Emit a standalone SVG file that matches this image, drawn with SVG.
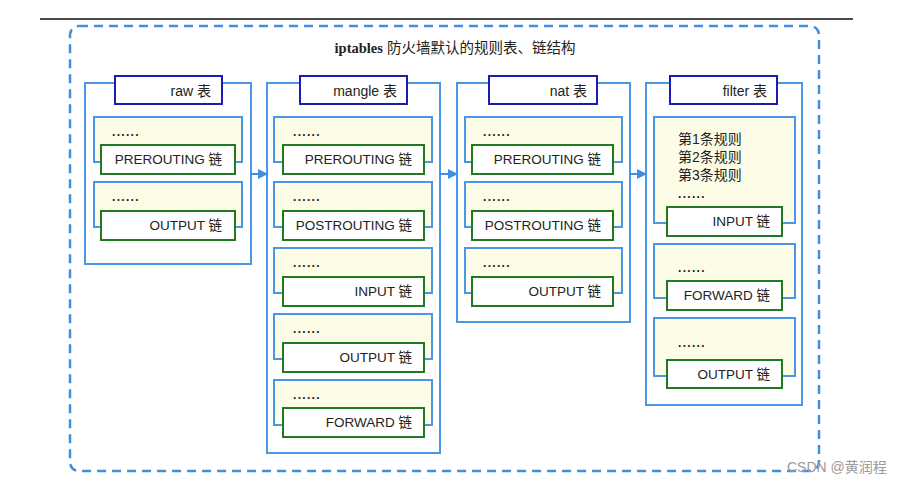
<svg xmlns="http://www.w3.org/2000/svg" width="903" height="485" viewBox="0 0 903 485">
<defs>
<style>
.frame{fill:none;stroke:#3d8fe0;stroke-width:2.5;stroke-dasharray:9 6}
.tbl{fill:#fff;stroke:#4a97e8;stroke-width:2}
.lbl{fill:#fff;stroke:#1c1cb4;stroke-width:2}
.ch{fill:#fdfde7;stroke:#4a97e8;stroke-width:2}
.gr{fill:#fff;stroke:#217a21;stroke-width:2}
text{font-family:"Liberation Sans","Noto Sans CJK SC",sans-serif;font-size:13.5px;fill:#222}
.t{font-size:14px}
.e{text-anchor:end}
.dots{letter-spacing:1.3px;font-weight:bold;font-size:12px}
.conn{stroke:#3d8fe0;stroke-width:2;fill:none;marker-end:url(#ah)}
</style>
<marker id="ah" viewBox="0 0 10 10" refX="9" refY="5" markerWidth="5" markerHeight="5" orient="auto" markerUnits="strokeWidth">
<path d="M0,0 L10,5 L0,10 z" fill="#3d8fe0"/>
</marker>
</defs>
<rect width="903" height="485" fill="#fff"/>
<line x1="40" y1="19" x2="853" y2="19" stroke="#111" stroke-width="1.5"/>
<rect class="frame" x="70" y="26" width="749" height="445" rx="9"/>
<text x="455" y="53" text-anchor="middle" style="font-size:14.5px"><tspan style="font-family:'Liberation Serif',serif;font-weight:bold">iptables</tspan> 防火墙默认的规则表、链结构</text>

<g id="raw">
<rect class="tbl" x="85" y="83" width="166" height="181"/>
<rect class="lbl" x="115" y="76" width="107" height="28"/>
<text class="e t" x="211" y="96">raw 表</text>
<g id="raw-prerouting">
<rect class="ch" x="94" y="117" width="148" height="45"/>
<text class="dots" x="112" y="136">......</text>
<rect class="gr" x="101" y="145" width="134" height="29"/>
<text class="e" x="222" y="164">PREROUTING 链</text>
</g>
<g id="raw-output">
<rect class="ch" x="94" y="182" width="148" height="45"/>
<text class="dots" x="112" y="201">......</text>
<rect class="gr" x="101" y="211" width="134" height="29"/>
<text class="e" x="222" y="230">OUTPUT 链</text>
</g>
</g>

<g id="mangle">
<rect class="tbl" x="267" y="83" width="173" height="370"/>
<rect class="lbl" x="300" y="76" width="107" height="28"/>
<text class="e t" x="397" y="96">mangle 表</text>
<g id="mangle-prerouting">
<rect class="ch" x="274" y="117" width="158" height="45"/>
<text class="dots" x="293" y="136">......</text>
<rect class="gr" x="283" y="145" width="141" height="29"/>
<text class="e" x="412" y="164">PREROUTING 链</text>
</g>
<g id="mangle-postrouting">
<rect class="ch" x="274" y="182" width="158" height="45"/>
<text class="dots" x="293" y="201">......</text>
<rect class="gr" x="283" y="211" width="141" height="29"/>
<text class="e" x="412" y="230">POSTROUTING 链</text>
</g>
<g id="mangle-input">
<rect class="ch" x="274" y="248" width="158" height="45"/>
<text class="dots" x="293" y="267">......</text>
<rect class="gr" x="283" y="277" width="141" height="29"/>
<text class="e" x="412" y="296">INPUT 链</text>
</g>
<g id="mangle-output">
<rect class="ch" x="274" y="314" width="158" height="45"/>
<text class="dots" x="293" y="333">......</text>
<rect class="gr" x="283" y="343" width="141" height="29"/>
<text class="e" x="412" y="362">OUTPUT 链</text>
</g>
<g id="mangle-forward">
<rect class="ch" x="274" y="380" width="158" height="45"/>
<text class="dots" x="293" y="399">......</text>
<rect class="gr" x="283" y="408" width="141" height="29"/>
<text class="e" x="412" y="427">FORWARD 链</text>
</g>
</g>

<g id="nat">
<rect class="tbl" x="457" y="83" width="173" height="239"/>
<rect class="lbl" x="489" y="76" width="108" height="28"/>
<text class="e t" x="587" y="96">nat 表</text>
<g id="nat-prerouting">
<rect class="ch" x="465" y="117" width="157" height="45"/>
<text class="dots" x="483" y="136">......</text>
<rect class="gr" x="472" y="145" width="141" height="29"/>
<text class="e" x="601" y="164">PREROUTING 链</text>
</g>
<g id="nat-postrouting">
<rect class="ch" x="465" y="182" width="157" height="45"/>
<text class="dots" x="483" y="201">......</text>
<rect class="gr" x="472" y="211" width="141" height="29"/>
<text class="e" x="601" y="230">POSTROUTING 链</text>
</g>
<g id="nat-output">
<rect class="ch" x="465" y="248" width="157" height="45"/>
<text class="dots" x="483" y="267">......</text>
<rect class="gr" x="472" y="277" width="141" height="29"/>
<text class="e" x="601" y="296">OUTPUT 链</text>
</g>
</g>

<g id="filter">
<rect class="tbl" x="646" y="83" width="156" height="322"/>
<rect class="lbl" x="670" y="76" width="107" height="28"/>
<text class="e t" x="767" y="96">filter 表</text>
<g id="filter-input">
<rect class="ch" x="654" y="117" width="141" height="106"/>
<text class="t" x="678" y="144">第1条规则</text>
<text class="t" x="678" y="162">第2条规则</text>
<text class="t" x="678" y="180">第3条规则</text>
<text class="dots" x="678" y="198">......</text>
<rect class="gr" x="667" y="207" width="115" height="29"/>
<text class="e" x="770" y="226">INPUT 链</text>
</g>
<g id="filter-forward">
<rect class="ch" x="654" y="244" width="141" height="54"/>
<text class="dots" x="678" y="272">......</text>
<rect class="gr" x="667" y="281" width="115" height="29"/>
<text class="e" x="770" y="300">FORWARD 链</text>
</g>
<g id="filter-output">
<rect class="ch" x="654" y="318" width="141" height="58"/>
<text class="dots" x="678" y="347">......</text>
<rect class="gr" x="667" y="360" width="115" height="28"/>
<text class="e" x="770" y="379">OUTPUT 链</text>
</g>
</g>

<g id="connectors">
<line class="conn" x1="251" y1="174" x2="267" y2="174"/>
<line class="conn" x1="440" y1="174" x2="457" y2="174"/>
<line class="conn" x1="630" y1="174" x2="646" y2="174"/>
</g>

<text x="787" y="472" style="font-size:14px;fill:#9a9a9a">CSDN @黄润程</text>
</svg>
